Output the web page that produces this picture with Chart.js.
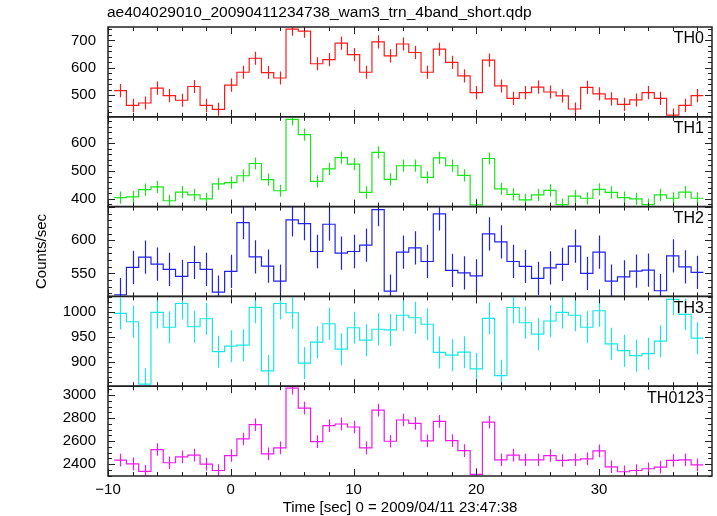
<!DOCTYPE html>
<html>
<head>
<meta charset="utf-8">
<script src="https://cdn.jsdelivr.net/npm/chart.js@4/dist/chart.umd.min.js"></script>
<style>
  html, body { margin: 0; padding: 0; background: #fff; }
  #wrap { width: 717px; height: 516px; }
</style>
</head>
<body>
<div id="wrap"><canvas id="qdpChart" width="717" height="516"></canvas></div>
<script>
// bin centres [sec]
const binTimes = [-9, -8, -7, -6, -5, -4, -3, -2, -1, 0, 1, 2, 3, 4, 5, 6, 7, 8, 9, 10,
  11, 12, 13, 14, 15, 16, 17, 18, 19, 20, 21, 22, 23, 24, 25, 26, 27, 28, 29, 30,
  31, 32, 33, 34, 35, 36, 37, 38];

const th0 = [517, 463, 472, 526, 499, 482, 532, 463, 449, 537, 584, 635, 583, 563, 741, 734, 615, 630, 690,
  648, 584, 695, 644, 687, 656, 584, 668, 620, 571, 510, 628, 534, 489, 510, 530, 512, 498, 450, 529,
  505, 487, 467, 483, 510, 489, 428, 463, 499];
const th1 = [404, 407, 433, 443, 393, 424, 414, 400, 454, 458, 483, 527, 469, 429, 686, 631, 463, 508, 548,
  525, 423, 567, 470, 519, 519, 477, 547, 519, 484, 378, 545, 436, 416, 396, 414, 430, 379, 410, 402,
  434, 423, 404, 400, 379, 414, 402, 424, 402];
const th2 = [518, 559, 574.5, 564, 556, 545.5, 566.5, 556, 522, 553, 626.5, 575, 561, 538.5, 630.5, 625, 583, 624, 580.5,
  583, 592.5, 646, 523.5, 582, 588.5, 568, 639.5, 554.5, 551, 546.5, 609.5, 597.5, 568, 560.5, 542.5, 558.5, 563.5, 591, 550,
  582, 538.5, 545, 553.5, 555, 524, 576.5, 560, 551.5];
const th3 = [996.7, 980, 855, 998.7, 969, 1016.6, 970, 986, 920, 931, 933, 1009, 881.5, 1016.6, 998, 897, 939, 976, 925,
  968, 943, 965, 963.6, 993, 988, 975, 918.5, 913, 919, 885.6, 986.8, 872, 1008.6, 978, 955, 981.5, 998.7, 993, 969,
  1002, 935.8, 922, 912, 916, 941, 1025, 994.7, 947];
const th0123 = [2435, 2403, 2337, 2527, 2412, 2463, 2478, 2400, 2345, 2475, 2619, 2743, 2489, 2541, 3061, 2888, 2596, 2735, 2749,
  2723, 2541, 2870, 2599, 2784, 2755, 2602, 2772, 2605, 2518, 2311, 2766, 2438, 2478, 2438, 2438, 2475, 2432, 2438, 2446,
  2515, 2377, 2334, 2345, 2360, 2374, 2432, 2438, 2394];

// typical 1-sigma error per panel
const errors = [24, 22, 25, 32, 55];

const panelNames = ['TH0', 'TH1', 'TH2', 'TH3', 'TH0123'];
const panelMin = [421.6, 372, 515.5, 850.8, 2297];
const panelMax = [749, 695, 650.5, 1030.8, 3077.8];
const yLabels = [[500, 600, 700], [400, 500, 600], [550, 600], [900, 950, 1000], [2400, 2600, 2800, 3000]];
const labelSteps = [100, 100, 50, 50, 200];
const minorSteps = [20, 20, 10, 10, 50];
const xTicks = [-10, 0, 10, 20, 30];

const series = [th0, th1, th2, th3, th0123];
const colors = ['#ff1a1a', '#19e619', '#2222ee', '#19e6e6', '#ee19ee'];
const FONT = '"Liberation Sans", Arial, Helvetica, sans-serif';
const BIN = 1;

// histogram edges for stepped lines
function stepData(vals) {
  const pts = binTimes.map((t, i) => ({ x: t - BIN / 2, y: vals[i] }));
  pts.push({ x: binTimes[binTimes.length - 1] + BIN / 2, y: vals[vals.length - 1] });
  return pts;
}

const scales = {
  x: {
    type: 'linear', min: -10, max: 39.2,
    afterFit: s => { s.height = 40; },
    grid: { display: false }, border: { display: false },
    afterBuildTicks: s => { s.ticks = xTicks.map(v => ({ value: v })); },
    ticks: {
      padding: -3, color: '#000', font: { family: FONT, size: 15 },
      maxRotation: 0, autoSkip: false,
      callback: v => v < 0 ? '\u2212' + Math.abs(v) : String(v)
    }
  }
};

// stacked y axes; last defined ends up on top
for (let i = panelNames.length - 1; i >= 0; i--) {
  scales['y' + i] = {
    type: 'linear', position: 'left', stack: 'panels', stackWeight: 1,
    min: panelMin[i], max: panelMax[i],
    afterFit: s => { s.width = 108; },
    afterBuildTicks: s => { s.ticks = yLabels[i].map(v => ({ value: v })); },
    grid: { display: false }, border: { display: false },
    ticks: {
      padding: 4, autoSkip: false,
      color: '#000', font: { family: FONT, size: 15 },
      callback: v => String(v)
    }
  };
}

const datasets = series.map((vals, i) => ({
  label: panelNames[i],
  data: stepData(vals),
  yAxisID: 'y' + i,
  stepped: true,
  borderColor: colors[i],
  borderWidth: 1.2,
  pointRadius: 0,
  fill: false
}));

const qdpPlugin = {
  id: 'qdpFrames',
  afterDatasetsDraw(chart) {
    const ctx = chart.ctx;
    const xs = chart.scales.x;
    const area = chart.chartArea;
    const L = area.left, R = area.right;

    panelNames.forEach((name, i) => {
      const ys = chart.scales['y' + i];
      const top = ys.top, bot = ys.bottom;

      // error bars, clipped to the panel
      ctx.save();
      ctx.beginPath();
      ctx.rect(L, top, R - L, bot - top);
      ctx.clip();
      ctx.strokeStyle = colors[i];
      ctx.lineWidth = 1.2;
      ctx.beginPath();
      series[i].forEach((v, j) => {
        const x = Math.round(xs.getPixelForValue(binTimes[j])) + 0.5;
        ctx.moveTo(x, ys.getPixelForValue(v + errors[i]));
        ctx.lineTo(x, ys.getPixelForValue(v - errors[i]));
      });
      ctx.stroke();
      ctx.restore();

      // ticks
      ctx.save();
      ctx.strokeStyle = '#222';
      ctx.lineWidth = 1;
      ctx.beginPath();
      for (let t = -10; t <= 39; t += 2) {
        const x = Math.round(xs.getPixelForValue(t)) + 0.5;
        const len = t % 10 === 0 ? 7 : 4;
        ctx.moveTo(x, top); ctx.lineTo(x, top + len);
        ctx.moveTo(x, bot); ctx.lineTo(x, bot - len);
      }
      const m = minorSteps[i];
      for (let v = Math.ceil(panelMin[i] / m) * m; v <= panelMax[i]; v += m) {
        const y = Math.round(ys.getPixelForValue(v)) + 0.5;
        const len = v % labelSteps[i] === 0 ? 7 : 4;
        ctx.moveTo(L, y); ctx.lineTo(L + len, y);
        ctx.moveTo(R, y); ctx.lineTo(R - len, y);
      }
      ctx.stroke();

      // frame
      ctx.lineWidth = 1.5;
      ctx.strokeStyle = '#222';
      ctx.strokeRect(L, top, R - L, bot - top);

      // panel label
      ctx.fillStyle = '#000';
      ctx.font = '16px ' + FONT;
      ctx.textAlign = 'right';
      ctx.textBaseline = 'top';
      ctx.fillText(name, R - 8, top + 4);
      ctx.restore();
    });

    // texts
    ctx.save();
    ctx.fillStyle = '#000';
    ctx.font = '15.5px ' + FONT;
    ctx.textBaseline = 'middle';
    ctx.textAlign = 'left';
    ctx.fillText('ae404029010_20090411234738_wam3_trn_4band_short.qdp', 107, 13);
    ctx.font = '15px ' + FONT;
    ctx.textAlign = 'center';
    ctx.fillText('Time [sec] 0 = 2009/04/11 23:47:38', 400, 508);
    ctx.translate(42, (area.top + area.bottom) / 2);
    ctx.rotate(-Math.PI / 2);
    ctx.fillText('Counts/sec', 0, 0);
    ctx.restore();
  }
};

new Chart(document.getElementById('qdpChart').getContext('2d'), {
  type: 'line',
  data: { datasets: datasets },
  options: {
    responsive: false,
    animation: false,
    layout: { padding: { top: 27, right: 5, bottom: 0, left: 0 } },
    scales: scales,
    plugins: {
      legend: { display: false },
      tooltip: { enabled: false },
      title: { display: false }
    }
  },
  plugins: [qdpPlugin]
});
</script>
</body>
</html>
